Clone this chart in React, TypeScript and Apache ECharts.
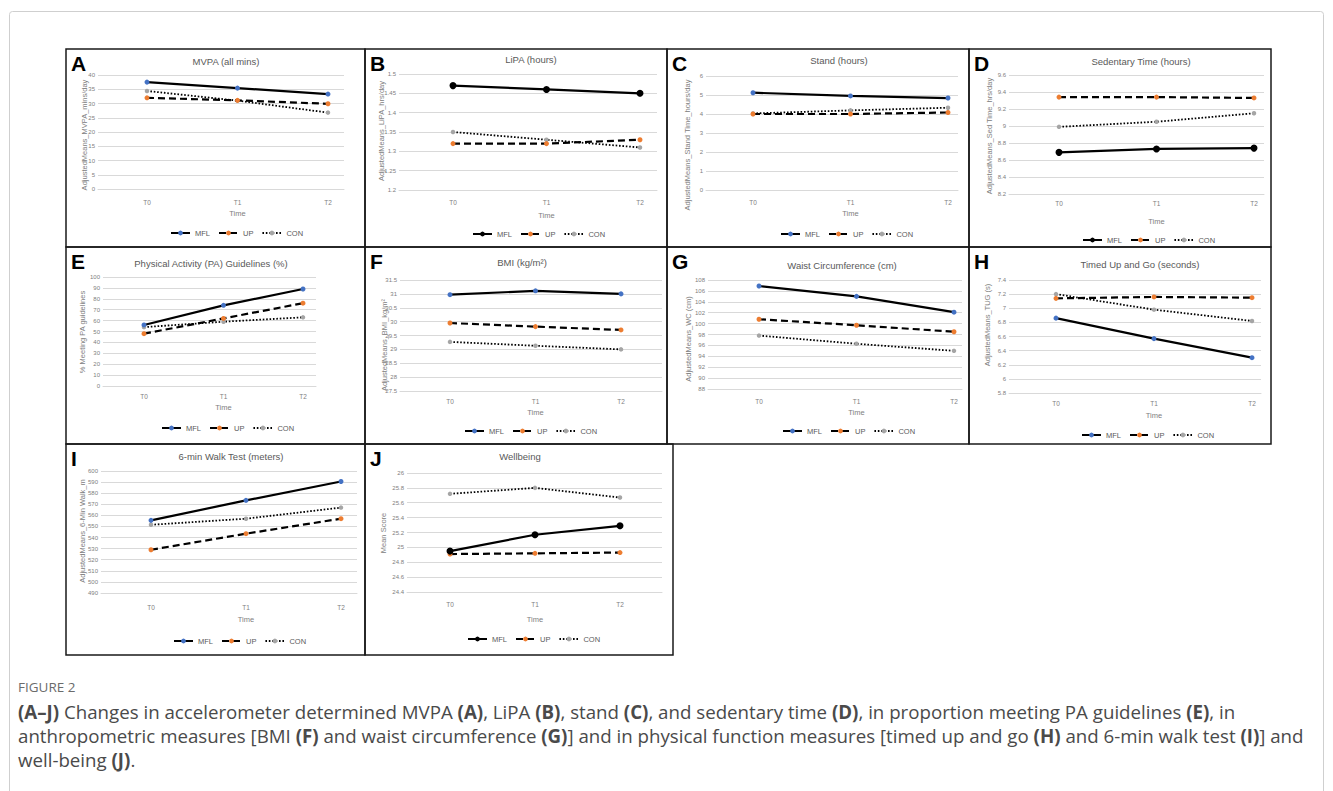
import React, { useEffect, useRef } from "react";
import * as echarts from "echarts";

// ---------- data ----------
const categories = ["T0", "T1", "T2"];
const groupNames = ["MFL", "UP", "CON"];

const mvpaMFL = [37.5, 35.4, 33.3];
const mvpaUP = [32.0, 31.1, 29.9];
const mvpaCON = [34.4, 31.0, 26.8];

const lipaMFL = [1.47, 1.46, 1.45];
const lipaUP = [1.32, 1.32, 1.33];
const lipaCON = [1.35, 1.33, 1.31];

const standMFL = [5.12, 4.95, 4.84];
const standUP = [4.0, 4.0, 4.08];
const standCON = [4.03, 4.19, 4.33];

const sedMFL = [8.69, 8.73, 8.74];
const sedUP = [9.34, 9.34, 9.33];
const sedCON = [8.99, 9.05, 9.15];

const paMFL = [56, 74, 89];
const paUP = [48, 62, 76];
const paCON = [54, 59, 63];

const bmiMFL = [30.97, 31.11, 31.0];
const bmiUP = [29.95, 29.82, 29.7];
const bmiCON = [29.27, 29.13, 29.0];

const wcMFL = [106.9, 105.0, 102.1];
const wcUP = [100.8, 99.7, 98.5];
const wcCON = [97.8, 96.3, 95.0];

const tugMFL = [6.86, 6.57, 6.3];
const tugUP = [7.14, 7.16, 7.15];
const tugCON = [7.2, 6.98, 6.82];

const walkMFL = [555.5, 573.5, 590.5];
const walkUP = [529, 543.5, 557];
const walkCON = [551.5, 557, 567];

const wellMFL = [24.95, 25.17, 25.29];
const wellUP = [24.91, 24.92, 24.93];
const wellCON = [25.72, 25.8, 25.67];

const panelLetters = ["A", "B", "C", "D", "E", "F", "G", "H", "I", "J"];
const panelTitles = [
  "MVPA (all mins)",
  "LiPA (hours)",
  "Stand (hours)",
  "Sedentary Time (hours)",
  "Physical Activity (PA) Guidelines (%)",
  "BMI (kg/m²)",
  "Waist Circumference (cm)",
  "Timed Up and Go (seconds)",
  "6-min Walk Test (meters)",
  "Wellbeing",
];
const yAxisNames = [
  "AdjustedMeans_MVPA_mins/day",
  "AdjustedMeans_LiPA_hrs/day",
  "AdjustedMeans_Stand Time_hours/day",
  "AdjustedMeans_Sed Time_hrs/day",
  "% Meeting PA guidelines",
  "AdjustedMeans_BMI_kg/m²",
  "AdjustedMeans_WC (cm)",
  "AdjustedMeans_TUG (s)",
  "AdjustedMeans_6-Min Walk_m",
  "Mean Score",
];
const yMins = [0, 1.2, 0, 8.2, 0, 27.5, 88, 5.8, 490, 24.4];
const yMaxs = [40, 1.5, 6, 9.6, 100, 31.5, 108, 7.4, 600, 26];
const ySteps = [5, 0.05, 1, 0.2, 10, 0.5, 2, 0.2, 10, 0.2];
const panelValues = [
  [mvpaMFL, mvpaUP, mvpaCON],
  [lipaMFL, lipaUP, lipaCON],
  [standMFL, standUP, standCON],
  [sedMFL, sedUP, sedCON],
  [paMFL, paUP, paCON],
  [bmiMFL, bmiUP, bmiCON],
  [wcMFL, wcUP, wcCON],
  [tugMFL, tugUP, tugCON],
  [walkMFL, walkUP, walkCON],
  [wellMFL, wellUP, wellCON],
];
const darkMflMarker = [false, true, false, true, false, false, false, false, false, true];

const xAxisName = "Time";
const figureLabel = "FIGURE 2";
const captionLines = [
  "{b|(A–J)} Changes in accelerometer determined MVPA {b|(A)}, LiPA {b|(B)}, stand {b|(C)}, and sedentary time {b|(D)}, in proportion meeting PA guidelines {b|(E)}, in",
  "anthropometric measures [BMI {b|(F)} and waist circumference {b|(G)}] and in physical function measures [timed up and go {b|(H)} and 6-min walk test {b|(I)}] and",
  "well-being {b|(J)}.",
];

// ---------- layout (pixel positions) ----------
type Layout = {
  box: [number, number, number, number];
  gl: number; gr: number; top: number; bottom: number;
  p0: number; p2: number;
  title: [number, number];
  yname: [number, number];
  xlab: number; time: number;
  legL: number; legY: number;
};
const layouts: Layout[] = [
  { box: [66, 49, 365, 247], gl: 98, gr: 344, top: 75, bottom: 189, p0: 147, p2: 328, title: [226, 61], yname: [84, 135], xlab: 202, time: 213, legL: 170, legY: 234 },
  { box: [365, 49, 667, 247], gl: 399, gr: 657, top: 74, bottom: 190, p0: 453, p2: 640, title: [531, 59], yname: [381, 131], xlab: 202, time: 215, legL: 472, legY: 235 },
  { box: [667, 49, 969, 247], gl: 706, gr: 958, top: 76, bottom: 190, p0: 753, p2: 948, title: [839, 60], yname: [687, 145], xlab: 202, time: 213, legL: 780, legY: 235 },
  { box: [969, 49, 1271, 247], gl: 1009, gr: 1264, top: 75, bottom: 194, p0: 1059, p2: 1254, title: [1141, 61], yname: [989, 136], xlab: 203, time: 221, legL: 1082, legY: 241 },
  { box: [66, 247, 365, 444], gl: 103, gr: 316, top: 277, bottom: 386, p0: 144, p2: 303, title: [211, 263], yname: [82, 332], xlab: 396, time: 407, legL: 161, legY: 429 },
  { box: [365, 247, 667, 444], gl: 400, gr: 662, top: 280, bottom: 391, p0: 450, p2: 621, title: [522, 262], yname: [384, 345], xlab: 401, time: 412, legL: 464, legY: 432 },
  { box: [667, 247, 969, 444], gl: 708, gr: 962, top: 280, bottom: 389, p0: 759, p2: 954, title: [842, 265], yname: [688, 339], xlab: 401, time: 412, legL: 782, legY: 432 },
  { box: [969, 247, 1271, 444], gl: 1009, gr: 1261, top: 280, bottom: 393, p0: 1056, p2: 1252, title: [1140, 264], yname: [987, 325], xlab: 403, time: 415, legL: 1081, legY: 436 },
  { box: [66, 444, 365, 655], gl: 101, gr: 357, top: 471, bottom: 593, p0: 151, p2: 341, title: [231, 456], yname: [82, 531], xlab: 607, time: 619, legL: 173, legY: 642 },
  { box: [365, 444, 673, 655], gl: 407, gr: 662, top: 473, bottom: 592, p0: 450, p2: 620, title: [520, 456], yname: [383, 533], xlab: 604, time: 619, legL: 467, legY: 640 },
];

const FONT = "'Liberation Sans', Arial, sans-serif";
const GRID_COLOR = "#d9d9d9";
const LABEL_COLOR = "#808080";
const MARKER_BLUE = "#4472C4";
const MARKER_ORANGE = "#ED7D31";
const MARKER_GRAY = "#A5A5A5";

function buildOption() {
  const grid: any[] = [];
  const xAxis: any[] = [];
  const yAxis: any[] = [];
  const series: any[] = [];
  const legend: any[] = [];
  const graphic: any[] = [];

  // outer card
  graphic.push({
    type: "rect",
    shape: { x: 9.5, y: 11.5, width: 1314, height: 900, r: 3 },
    style: { fill: "none", stroke: "#cfcfcf", lineWidth: 1 },
    silent: true,
  });

  layouts.forEach((L, i) => {
    const unit = (L.p2 - L.p0) / 2;
    const xmin = -(L.p0 - L.gl) / unit;
    const xmax = 2 + (L.gr - L.p2) / unit;
    grid.push({
      left: L.gl,
      top: L.top,
      width: L.gr - L.gl,
      height: L.bottom - L.top,
      outerBoundsMode: "none",
      containLabel: false,
    });
    xAxis.push({
      type: "value",
      gridIndex: i,
      min: xmin,
      max: xmax,
      axisLine: { show: true, onZero: false, lineStyle: { color: GRID_COLOR, width: 1 } },
      axisTick: { show: false },
      splitLine: { show: false },
      axisLabel: {
        customValues: [0, 1, 2],
        formatter: (v: number) => categories[Math.round(v)] ?? "",
        fontSize: 6.5,
        fontFamily: FONT,
        color: LABEL_COLOR,
        margin: L.xlab - L.bottom - 3.5,
      },
    });
    yAxis.push({
      type: "value",
      gridIndex: i,
      min: yMins[i],
      max: yMaxs[i],
      interval: ySteps[i],
      axisLine: { show: false },
      axisTick: { show: false },
      splitLine: { show: true, lineStyle: { color: GRID_COLOR, width: 1 } },
      axisLabel: { fontSize: 6, fontFamily: FONT, color: LABEL_COLOR, margin: 3 },
    });

    const vals = panelValues[i];
    const mflColor = darkMflMarker[i] ? "#000000" : MARKER_BLUE;
    const styles = [
      { marker: mflColor, size: darkMflMarker[i] ? 7 : 5, width: 2.2, type: "solid" as any },
      { marker: MARKER_ORANGE, size: 5, width: 2.2, type: [7, 4] as any },
      { marker: MARKER_GRAY, size: 4.5, width: 1.8, type: [1.6, 1.8] as any },
    ];
    vals.forEach((arr, k) => {
      series.push({
        type: "line",
        name: groupNames[k],
        xAxisIndex: i,
        yAxisIndex: i,
        data: arr.map((v, j) => [j, v]),
        symbol: "circle",
        symbolSize: styles[k].size,
        showSymbol: true,
        itemStyle: { color: styles[k].marker },
        lineStyle: { color: "#000000", width: styles[k].width, type: styles[k].type },
        emphasis: { disabled: true },
        z: 3 - k,
      });
    });

    legend.push({
      left: L.legL,
      top: L.legY - 5,
      padding: 0,
      itemWidth: 19,
      itemHeight: 6,
      itemGap: 8,
      selectedMode: false,
      textStyle: { fontSize: 7.5, fontFamily: FONT, color: "#595959" },
      data: darkMflMarker[i]
        ? [{ name: "MFL", itemStyle: { color: "#000000" } }, "UP", "CON"]
        : ["MFL", "UP", "CON"],
    });

    const [bx0, by0, bx1, by1] = L.box;
    graphic.push({
      type: "rect",
      shape: { x: bx0, y: by0, width: bx1 - bx0, height: by1 - by0 },
      style: { fill: "none", stroke: "#1a1a1a", lineWidth: 1.5 },
      silent: true,
      z: 10,
    });
    graphic.push({
      type: "text",
      x: bx0 + 5,
      y: by0 + 4,
      style: {
        text: panelLetters[i],
        fontSize: 21,
        fontWeight: "bold",
        fontFamily: "'Liberation Sans', Arial, sans-serif",
        fill: "#000000",
        align: "left",
        verticalAlign: "top",
      },
      silent: true,
    });
    graphic.push({
      type: "text",
      x: L.title[0],
      y: L.title[1],
      style: {
        text: panelTitles[i],
        fontSize: 9.5,
        fontFamily: FONT,
        fill: "#595959",
        align: "center",
        verticalAlign: "middle",
      },
      silent: true,
    });
    graphic.push({
      type: "text",
      x: L.yname[0],
      y: L.yname[1],
      rotation: Math.PI / 2,
      style: {
        text: yAxisNames[i],
        fontSize: 7.5,
        fontFamily: FONT,
        fill: "#808080",
        align: "center",
        verticalAlign: "middle",
      },
      silent: true,
    });
    graphic.push({
      type: "text",
      x: (L.p0 + L.p2) / 2,
      y: L.time,
      style: {
        text: xAxisName,
        fontSize: 7.5,
        fontFamily: FONT,
        fill: "#808080",
        align: "center",
        verticalAlign: "middle",
      },
      silent: true,
    });
  });

  // caption
  graphic.push({
    type: "text",
    x: 18,
    y: 687,
    style: {
      text: figureLabel,
      fontSize: 13.5,
      fontFamily: "'Open Sans', sans-serif",
      fill: "#6b6b6b",
      align: "left",
      verticalAlign: "middle",
    },
    silent: true,
  });
  captionLines.forEach((line, k) => {
    graphic.push({
      type: "text",
      x: 18,
      y: 711 + k * 24,
      style: {
        text: line,
        fontSize: 18.7,
        fontFamily: "'Open Sans', sans-serif",
        fill: "#4a4a4a",
        align: "left",
        verticalAlign: "middle",
        rich: {
          b: {
            fontSize: 18.7,
            fontWeight: "bold",
            fontFamily: "'Open Sans', sans-serif",
            fill: "#4a4a4a",
          },
        },
      },
      silent: true,
    });
  });

  return {
    animation: false,
    backgroundColor: "#ffffff",
    grid,
    xAxis,
    yAxis,
    series,
    legend,
    graphic,
  };
}

export default function App() {
  const ref = useRef<HTMLDivElement>(null);
  useEffect(() => {
    if (!ref.current) return;
    const chart = echarts.init(ref.current, undefined, { renderer: "svg" });
    chart.setOption(buildOption() as any);
    return () => chart.dispose();
  }, []);
  return (
    <div
      ref={ref}
      style={{ position: "absolute", left: 0, top: 0, width: 1333, height: 791 }}
    />
  );
}
